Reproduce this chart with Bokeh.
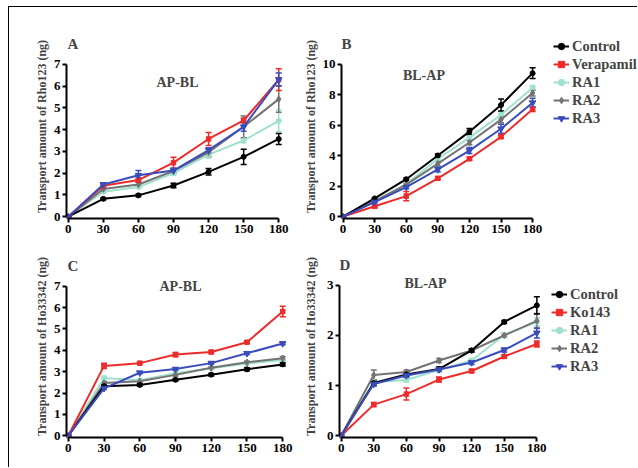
from bokeh.plotting import figure
from bokeh.models import (Range1d, Whisker, TeeHead, ColumnDataSource, Legend,
                          LegendItem, Label, FixedTicker)
from bokeh.layouts import row, column
from bokeh.embed import file_html
from bokeh.resources import INLINE

# ---------------- data ----------------
time_min = [0, 30, 60, 90, 120, 150, 180]

# Panel A: Rho123, AP-BL
a_control = [0, 0.82, 0.98, 1.43, 2.06, 2.75, 3.57]
a_control_err = [0, 0.05, 0.05, 0.10, 0.15, 0.35, 0.25]
a_verapamil = [0, 1.42, 1.68, 2.48, 3.57, 4.42, 6.30]
a_verapamil_err = [0, 0.08, 0.10, 0.25, 0.30, 0.10, 0.50]
a_ra1 = [0, 1.15, 1.36, 2.00, 2.85, 3.50, 4.40]
a_ra1_err = [0, 0.05, 0.05, 0.10, 0.15, 0.10, 0.50]
a_ra2 = [0, 1.27, 1.48, 2.10, 2.96, 4.13, 5.40]
a_ra2_err = [0, 0.05, 0.10, 0.10, 0.20, 0.50, 0.60]
a_ra3 = [0, 1.48, 1.90, 2.12, 3.06, 4.13, 6.30]
a_ra3_err = [0, 0.06, 0.22, 0.10, 0.10, 0.20, 0.30]

# Panel B: Rho123, BL-AP
b_control = [0, 1.20, 2.46, 4.02, 5.58, 7.33, 9.42]
b_control_err = [0, 0.05, 0.08, 0.10, 0.20, 0.40, 0.35]
b_verapamil = [0, 0.68, 1.35, 2.52, 3.80, 5.24, 7.05]
b_verapamil_err = [0, 0.10, 0.30, 0.08, 0.10, 0.10, 0.15]
b_ra1 = [0, 1.03, 2.14, 3.80, 5.19, 6.69, 8.46]
b_ra1_err = [0, 0.05, 0.10, 0.20, 0.15, 0.20, 0.15]
b_ra2 = [0, 1.00, 2.10, 3.48, 4.87, 6.37, 8.12]
b_ra2_err = [0, 0.05, 0.10, 0.15, 0.15, 0.20, 0.20]
b_ra3 = [0, 0.96, 1.94, 3.10, 4.34, 5.77, 7.48]
b_ra3_err = [0, 0.05, 0.10, 0.15, 0.20, 0.30, 0.30]

# Panel C: Ho33342, AP-BL
c_control = [0, 2.32, 2.38, 2.62, 2.86, 3.11, 3.34]
c_control_err = [0, 0.05, 0.05, 0.06, 0.06, 0.07, 0.08]
c_ko143 = [0, 3.27, 3.40, 3.80, 3.92, 4.38, 5.82]
c_ko143_err = [0, 0.12, 0.05, 0.10, 0.07, 0.05, 0.25]
c_ra1 = [0, 2.70, 2.60, 2.93, 3.16, 3.38, 3.55]
c_ra1_err = [0, 0.08, 0.05, 0.05, 0.05, 0.05, 0.06]
c_ra2 = [0, 2.47, 2.55, 2.85, 3.18, 3.44, 3.63]
c_ra2_err = [0, 0.06, 0.05, 0.05, 0.05, 0.05, 0.08]
c_ra3 = [0, 2.22, 2.95, 3.12, 3.40, 3.86, 4.32]
c_ra3_err = [0, 0.06, 0.05, 0.05, 0.05, 0.05, 0.06]

# Panel D: Ho33342, BL-AP
d_control = [0, 1.05, 1.22, 1.33, 1.70, 2.27, 2.60]
d_control_err = [0, 0.05, 0.04, 0.04, 0.03, 0.03, 0.17]
d_ko143 = [0, 0.62, 0.83, 1.12, 1.29, 1.58, 1.83]
d_ko143_err = [0, 0.04, 0.12, 0.05, 0.03, 0.03, 0.06]
d_ra1 = [0, 1.07, 1.11, 1.31, 1.50, 2.01, 2.27]
d_ra1_err = [0, 0.04, 0.04, 0.04, 0.04, 0.04, 0.08]
d_ra2 = [0, 1.21, 1.27, 1.50, 1.70, 2.00, 2.29]
d_ra2_err = [0, 0.10, 0.04, 0.04, 0.03, 0.03, 0.15]
d_ra3 = [0, 1.03, 1.20, 1.32, 1.46, 1.71, 2.05]
d_ra3_err = [0, 0.04, 0.04, 0.04, 0.04, 0.04, 0.10]

legend_top = ["Control", "Verapamil", "RA1", "RA2", "RA3"]
legend_bottom = ["Control", "Ko143", "RA1", "RA2", "RA3"]
x_ticks = [0, 30, 60, 90, 120, 150, 180]

# ---------------- styles ----------------
SERIF = "Liberation Serif"
COLORS = ["#000000", "#ee2b2b", "#9fe0cf", "#737373", "#3a4cbc"]
MARKERS = ["circle", "square", "circle", "diamond", "inverted_triangle"]
MSIZE = [5, 4.5, 5, 6.5, 6.5]
DRAW_ORDER = [2, 3, 0, 1, 4]
XPAD = 1.5


def make_panel(cfg, series, errs, names):
    width, height = cfg["size"]
    bl, bt, br, bb = cfg["borders"]
    W, H = cfg["core"]          # pixel size of the padded 0..180 / 0..ymax area
    ymax, ystep = cfg["ymax"], cfg["ystep"]
    ypad = ymax * 0.012
    xspan = 180 + 2 * XPAD
    yspan = ymax + 2 * ypad
    fw = width - bl - br
    fh = height - bt - bb
    x0, x1 = -XPAD, -XPAD + fw * xspan / W
    y0, y1 = -ypad, -ypad + fh * yspan / H

    def dx(px):  # pixels right of frame left -> data
        return x0 + px * xspan / W

    def dy(px):  # pixels above frame bottom -> data
        return y0 + px * yspan / H

    p = figure(width=width, height=height, output_backend="svg",
               toolbar_location=None,
               x_range=Range1d(x0, x1), y_range=Range1d(y0, y1),
               min_border_left=bl, min_border_top=bt,
               min_border_right=br, min_border_bottom=bb)
    p.outline_line_color = None
    p.grid.visible = False
    p.background_fill_color = "white"
    p.border_fill_color = "white"

    for ax in (p.xaxis[0], p.yaxis[0]):
        ax.axis_line_width = 2
        ax.major_tick_line_width = 2
        ax.major_tick_out = 4
        ax.major_tick_in = 0
        ax.minor_tick_line_color = None
        ax.major_label_standoff = 2
        ax.major_label_text_font = SERIF
        ax.major_label_text_font_style = "bold"
        ax.major_label_text_font_size = "13px"
        ax.major_label_text_color = "black"
        ax.axis_line_color = "black"
        ax.major_tick_line_color = "black"
    p.xaxis[0].ticker = FixedTicker(ticks=x_ticks)
    p.xaxis[0].bounds = (0, 180)
    p.yaxis[0].ticker = FixedTicker(ticks=list(range(0, ymax + 1, ystep)))
    p.yaxis[0].bounds = (0, ymax)
    p.yaxis[0].axis_label = cfg["ylabel"]
    p.yaxis[0].axis_label_text_font = SERIF
    p.yaxis[0].axis_label_text_font_style = "bold"
    p.yaxis[0].axis_label_text_font_size = "12px"
    p.yaxis[0].axis_label_standoff = cfg["label_std"]

    items = {}
    for i in DRAW_ORDER:
        ys, es, col = series[i], errs[i], COLORS[i]
        src = ColumnDataSource(dict(x=time_min, y=ys,
                                    up=[y + e for y, e in zip(ys, es)],
                                    lo=[y - e for y, e in zip(ys, es)]))
        w = Whisker(base="x", upper="up", lower="lo", source=src,
                    line_color=col, line_width=1.5,
                    upper_head=TeeHead(size=6, line_color=col, line_width=1.5),
                    lower_head=TeeHead(size=6, line_color=col, line_width=1.5))
        p.add_layout(w)
        ln = p.line("x", "y", source=src, line_color=col, line_width=2)
        mk = p.scatter("x", "y", source=src, marker=MARKERS[i], size=MSIZE[i],
                       fill_color=col, line_color=col)
        items[i] = [ln, mk]

    sx, sy = cfg["sub_px"]
    p.add_layout(Label(x=dx(sx), y=dy(sy), text=cfg["subtitle"], text_font=SERIF,
                       text_font_style="bold", text_font_size="14px",
                       text_align="center", text_baseline="middle"))
    lx, ly = cfg["letter_px"]
    p.add_layout(Label(x=dx(lx), y=dy(ly), text=cfg["letter"], text_font=SERIF,
                       text_font_style="bold", text_font_size="15px",
                       text_align="left", text_baseline="middle"))

    if cfg.get("legend_px") is not None:
        leg = Legend(items=[LegendItem(label=names[i], renderers=items[i])
                            for i in range(5)],
                     location=cfg["legend_px"])
        leg.label_text_font = SERIF
        leg.label_text_font_style = "bold"
        leg.label_text_font_size = "14.5px"
        leg.glyph_width = 16
        leg.glyph_height = 18
        leg.label_height = 18
        leg.label_standoff = 3
        leg.spacing = 0
        leg.padding = 0
        leg.margin = 0
        leg.border_line_color = None
        leg.background_fill_alpha = 0
        p.add_layout(leg)
    return p


# row 1 frames: top 34, bottom 218 ; row 2 frames: top 255, bottom 437
cfgA = dict(letter="A", subtitle="AP-BL", ylabel="Transport amount of Rho123 (ng)",
            ymax=7, ystep=1, size=(291, 238), borders=(57, 27, 14, 27),
            core=(214, 156), label_std=2, letter_px=(1, 175), sub_px=(111, 136))
cfgB = dict(letter="B", subtitle="BL-AP", ylabel="Transport amount of Rho123 (ng)",
            ymax=10, ystep=2, size=(337, 238), borders=(39, 27, 0, 27),
            core=(194, 156), label_std=2, letter_px=(0, 175),
            sub_px=(83, 143), legend_px=(212, 91))
cfgC = dict(letter="C", subtitle="AP-BL", ylabel="Transport amount of Ho33342 (ng)",
            ymax=7, ystep=1, size=(291, 222), borders=(57, 10, 14, 30),
            core=(218, 153), label_std=2, letter_px=(1, 172), sub_px=(114, 151))
cfgD = dict(letter="D", subtitle="BL-AP", ylabel="Transport amount of Ho33342 (ng)",
            ymax=3, ystep=1, size=(337, 222), borders=(39, 10, 0, 30),
            core=(199, 154), label_std=6, letter_px=(0, 173),
            sub_px=(86, 154), legend_px=(212, 62))

pA = make_panel(cfgA, [a_control, a_verapamil, a_ra1, a_ra2, a_ra3],
                [a_control_err, a_verapamil_err, a_ra1_err, a_ra2_err, a_ra3_err],
                legend_top)
pB = make_panel(cfgB, [b_control, b_verapamil, b_ra1, b_ra2, b_ra3],
                [b_control_err, b_verapamil_err, b_ra1_err, b_ra2_err, b_ra3_err],
                legend_top)
pC = make_panel(cfgC, [c_control, c_ko143, c_ra1, c_ra2, c_ra3],
                [c_control_err, c_ko143_err, c_ra1_err, c_ra2_err, c_ra3_err],
                legend_bottom)
pD = make_panel(cfgD, [d_control, d_ko143, d_ra1, d_ra2, d_ra3],
                [d_control_err, d_ko143_err, d_ra1_err, d_ra2_err, d_ra3_err],
                legend_bottom)

layout = column(row(pA, pB), row(pC, pD), margin=(6, 0, 0, 8),
                styles={"border-left": "1px solid black",
                        "border-top": "1px solid black"})

open("out.html", "w").write(file_html(layout, INLINE))
